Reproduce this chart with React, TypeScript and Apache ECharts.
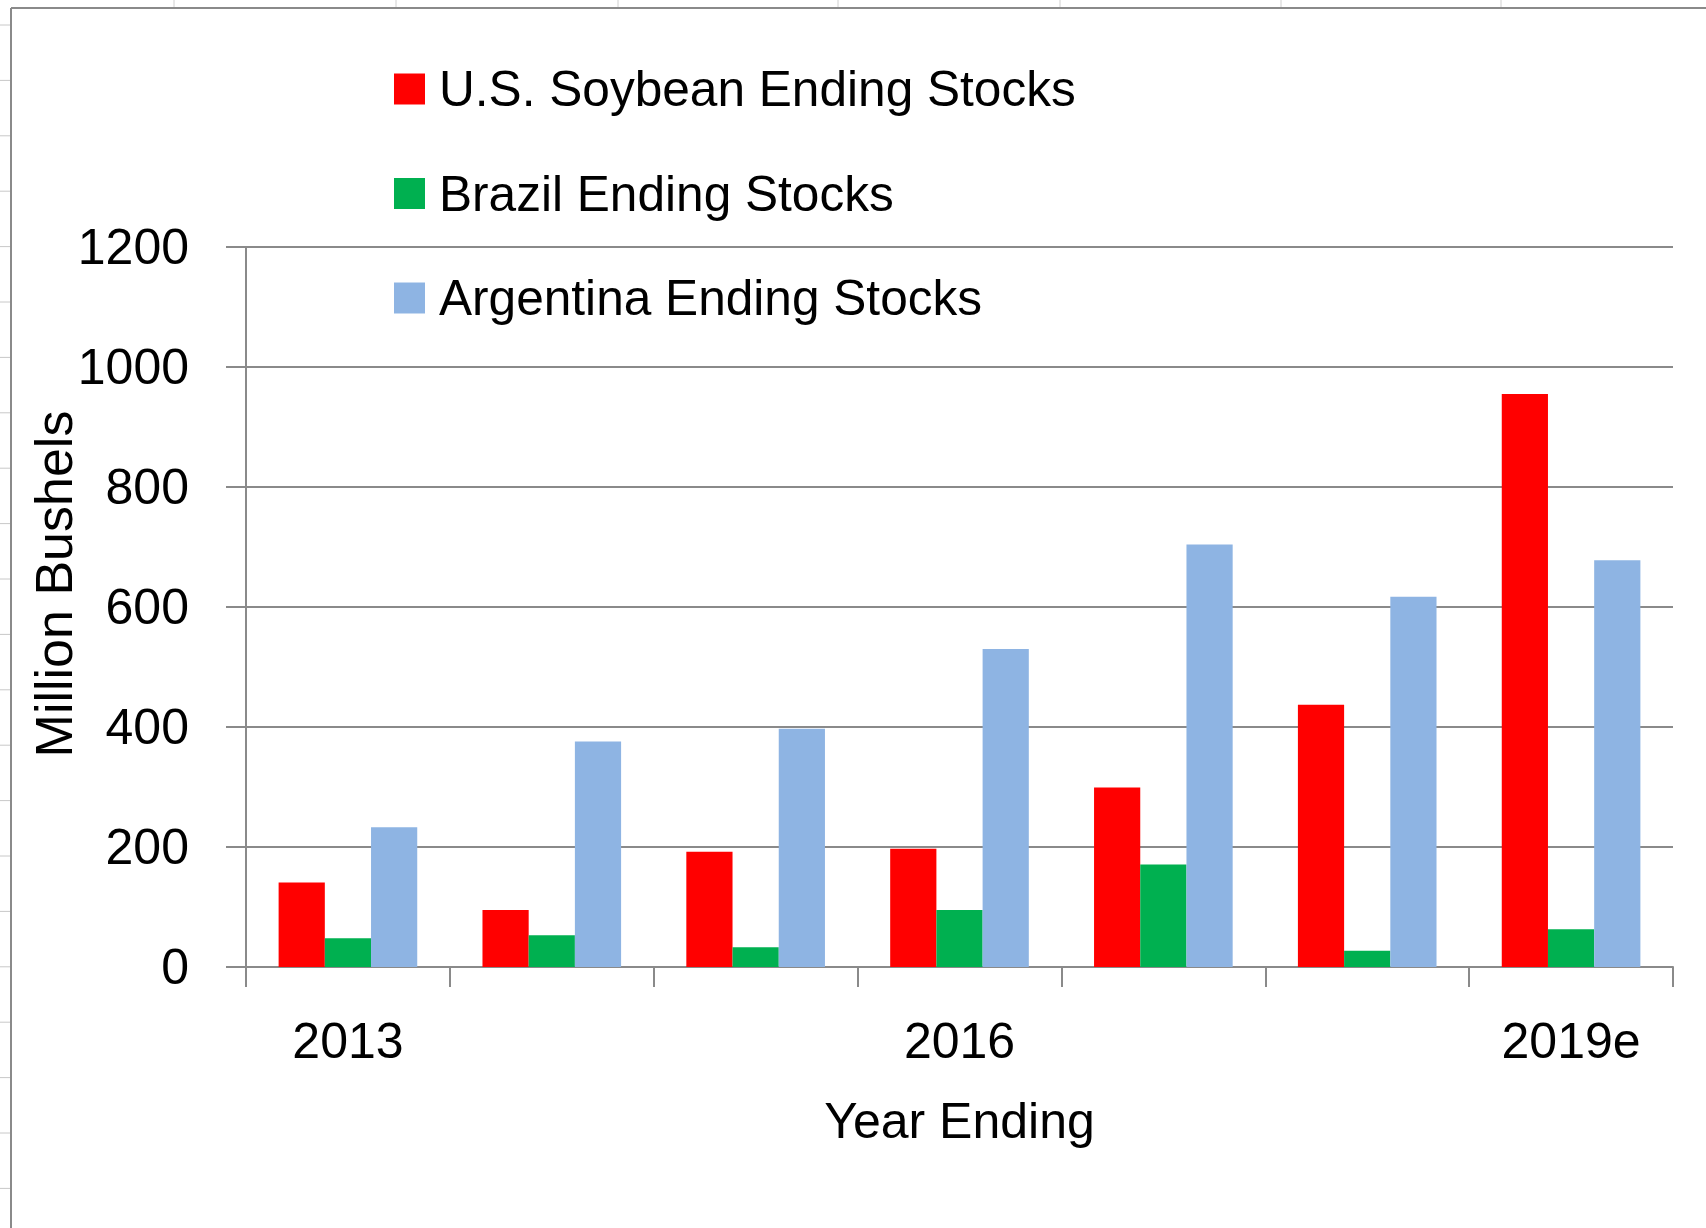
import React, { useEffect, useRef } from "react";
import * as echarts from "echarts";

const categories = ["2013", "2014", "2015", "2016", "2017", "2018", "2019e"];
const usStocks = [141, 95, 192, 197, 299, 437, 955];
const brazilStocks = [48, 53, 33, 95, 171, 27, 63];
const argentinaStocks = [233, 376, 397, 530, 704, 617, 678];
const seriesNames = [
  "U.S. Soybean Ending Stocks",
  "Brazil Ending Stocks",
  "Argentina Ending Stocks",
];
const seriesColors = ["#FF0000", "#00B050", "#8EB4E3"];
const yMin = 0;
const yMax = 1200;
const yInterval = 200;

const FONT = "'Liberation Sans', Arial, sans-serif";
const AXIS_GRAY = "#8a8a8a";

export default function App() {
  const ref = useRef<HTMLDivElement>(null);

  useEffect(() => {
    if (!ref.current) return;
    const chart = echarts.init(ref.current, undefined, { renderer: "svg" });

    const decorations: any[] = [];
    // Excel frame border
    decorations.push({
      type: "line",
      shape: { x1: 11, y1: 8, x2: 1706, y2: 8 },
      style: { stroke: "#8a8a8a", lineWidth: 2 },
      silent: true,
    });
    decorations.push({
      type: "line",
      shape: { x1: 11, y1: 8, x2: 11, y2: 1228 },
      style: { stroke: "#8a8a8a", lineWidth: 2 },
      silent: true,
    });
    // spreadsheet column lines visible above the frame
    [174, 396, 618, 838, 1060, 1281, 1501].forEach((x) => {
      decorations.push({
        type: "line",
        shape: { x1: x, y1: 0, x2: x, y2: 7 },
        style: { stroke: "#d0d0d0", lineWidth: 1 },
        silent: true,
      });
    });
    // spreadsheet row lines visible left of the frame
    for (let k = 0; k < 22; k++) {
      const y = 25 + 55.4 * k;
      decorations.push({
        type: "line",
        shape: { x1: 0, y1: y, x2: 10, y2: y },
        style: { stroke: "#c8c8c8", lineWidth: 1 },
        silent: true,
      });
    }

    const values = [usStocks, brazilStocks, argentinaStocks];

    chart.setOption({
      animation: false,
      backgroundColor: "#ffffff",
      textStyle: { fontFamily: FONT },
      grid: {
        left: 246,
        right: 33,
        top: 247,
        bottom: 261,
        containLabel: false,
        outerBoundsMode: "none",
      },
      legend: {
        orient: "vertical",
        left: 394,
        top: 64,
        padding: 0,
        itemWidth: 31,
        itemHeight: 31,
        itemGap: 54.5,
        icon: "rect",
        data: seriesNames,
        textStyle: {
          fontFamily: FONT,
          fontSize: 49.6,
          lineHeight: 50,
          color: "#000000",
          padding: [0, 0, 0, 9],
        },
      },
      xAxis: {
        type: "category",
        data: categories,
        boundaryGap: true,
        name: "Year Ending",
        nameLocation: "middle",
        nameGap: 129,
        nameMoveOverlap: false,
        nameTextStyle: { fontFamily: FONT, fontSize: 50, color: "#000000" },
        axisLine: { show: true, lineStyle: { color: AXIS_GRAY, width: 2 } },
        axisTick: {
          show: true,
          interval: 0,
          length: 20,
          lineStyle: { color: AXIS_GRAY, width: 2 },
        },
        axisLabel: {
          interval: 2,
          margin: 49,
          fontFamily: FONT,
          fontSize: 50,
          color: "#000000",
        },
        splitLine: { show: false },
      },
      yAxis: {
        type: "value",
        min: yMin,
        max: yMax,
        interval: yInterval,
        name: "Million Bushels",
        nameLocation: "middle",
        nameGap: 166,
        nameMoveOverlap: false,
        nameTextStyle: {
          fontFamily: FONT,
          fontSize: 52,
          color: "#000000",
          padding: [0, 0, 0, 46],
        },
        axisLine: { show: true, lineStyle: { color: AXIS_GRAY, width: 2 } },
        axisTick: {
          show: true,
          length: 20,
          lineStyle: { color: AXIS_GRAY, width: 2 },
        },
        axisLabel: {
          margin: 57,
          fontFamily: FONT,
          fontSize: 50,
          color: "#000000",
          formatter: (v: number) => String(v),
        },
        splitLine: { show: true, lineStyle: { color: AXIS_GRAY, width: 2 } },
      },
      series: seriesNames.map((name, i) => ({
        name,
        type: "bar",
        data: values[i],
        barGap: "0%",
        barCategoryGap: "32%",
        itemStyle: { color: seriesColors[i] },
      })),
      graphic: decorations,
    });

    return () => {
      chart.dispose();
    };
  }, []);

  return (
    <div
      ref={ref}
      style={{
        position: "absolute",
        left: 0,
        top: 0,
        width: 1706,
        height: 1228,
        background: "#ffffff",
      }}
    />
  );
}
